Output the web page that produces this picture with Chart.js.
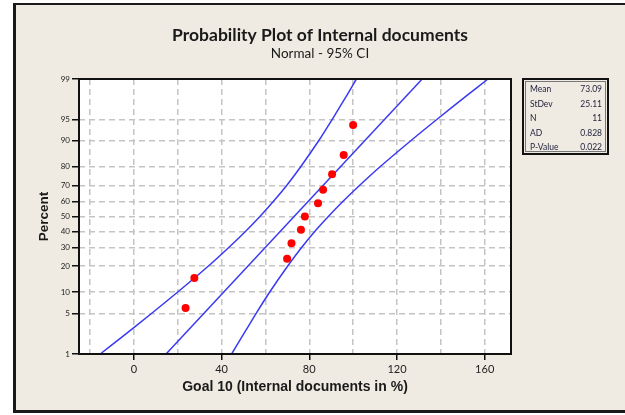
<!DOCTYPE html>
<html><head><meta charset="utf-8">
<script src="https://cdn.jsdelivr.net/npm/chart.js@4"></script>
<style>
html,body{margin:0;padding:0;background:#fff;width:625px;height:415px;overflow:hidden;font-family:Lato, sans-serif;}
#frame{position:absolute;left:13px;top:3px;width:640px;height:405px;border-left:3px solid #1a1a1a;border-top:2px solid #1a1a1a;border-bottom:3px solid #1a1a1a;background:#efebe2;}
#c{position:absolute;left:0;top:0;}
#stats{position:absolute;left:522px;top:78px;width:83px;height:73px;border:2px solid #111;}
#stats .in{position:absolute;left:1px;top:1px;right:1px;bottom:1px;border:1px solid #777;}
#stats .row{position:absolute;left:6px;right:5px;height:12px;font-size:8.5px;line-height:12px;color:#23233f;font-family:Lato, sans-serif;}
#stats .row span.v{position:absolute;right:0;top:0;}
</style></head><body>
<div id="frame"></div>
<canvas id="c" width="625" height="415"></canvas>
<div id="stats"><div class="in"></div></div>
<script>
// ---- data ----
const pointsX   = [23.6, 27.6, 69.9, 71.9, 76.2, 78.0, 84.0, 86.3, 90.4, 95.7, 100.0];
const pointsPct = [6.1, 14.9, 23.7, 32.5, 41.2, 50.0, 58.8, 67.5, 76.3, 85.1, 93.9];
const fitPct = [1, 99];
const fitX   = [14.7, 131.5];
const bandPct   = [1, 2, 5, 10, 20, 30, 40, 50, 60, 70, 80, 90, 95, 98, 99];
const bandLower = [-15.3, -5.9, 7.9, 19.9, 33.9, 43.3, 50.9, 57.5, 63.6, 69.7, 76.1, 84.3, 90.5, 97.2, 101.5];
const bandUpper = [44.6, 49.0, 55.7, 61.9, 70.1, 76.5, 82.5, 88.7, 95.3, 102.9, 112.3, 126.3, 138.3, 152.1, 161.5];
const yTicks = [1, 5, 10, 20, 30, 40, 50, 60, 70, 80, 90, 95, 99];
const xGrid  = [-20, 0, 20, 40, 60, 80, 100, 120, 140, 160];
const xLabelEvery = 40;
const statLabels = ['Mean', 'StDev', 'N', 'AD', 'P-Value'];
const statValues = ['73.09', '25.11', '11', '0.828', '0.022'];
const titleText = 'Probability Plot of Internal documents';
const subtitleText = 'Normal - 95% CI';
const xTitle = 'Goal 10 (Internal documents in %)';
const yTitle = 'Percent';

// stats box
const st = document.getElementById('stats');
statLabels.forEach((l, i) => {
  const r = document.createElement('div');
  r.className = 'row';
  r.style.top = (3 + i * 14.5) + 'px';
  r.innerHTML = '<span>' + l + '</span><span class="v">' + statValues[i] + '</span>';
  st.appendChild(r);
});

// inverse normal CDF (Acklam)
function probit(p) {
  const a=[-3.969683028665376e+01,2.209460984245205e+02,-2.759285104469687e+02,1.383577518672690e+02,-3.066479806614716e+01,2.506628277459239e+00];
  const b=[-5.447609879822406e+01,1.615858368580409e+02,-1.556989798598866e+02,6.680131188771972e+01,-1.328068155288572e+01];
  const c=[-7.784894002430293e-03,-3.223964580411365e-01,-2.400758277161838e+00,-2.549671010229583e+00,4.374664141464968e+00,2.938163982698783e+00];
  const d=[7.784695709041462e-03,3.224671290700398e-01,2.445134137142996e+00,3.754408661907416e+00];
  const pl=0.02425, ph=1-pl; let q, r;
  if (p < pl) { q=Math.sqrt(-2*Math.log(p)); return (((((c[0]*q+c[1])*q+c[2])*q+c[3])*q+c[4])*q+c[5])/((((d[0]*q+d[1])*q+d[2])*q+d[3])*q+1); }
  if (p <= ph) { q=p-0.5; r=q*q; return (((((a[0]*r+a[1])*r+a[2])*r+a[3])*r+a[4])*r+a[5])*q/(((((b[0]*r+b[1])*r+b[2])*r+b[3])*r+b[4])*r+1); }
  q=Math.sqrt(-2*Math.log(1-p)); return -(((((c[0]*q+c[1])*q+c[2])*q+c[3])*q+c[4])*q+c[5])/((((d[0]*q+d[1])*q+d[2])*q+d[3])*q+1);
}

// normal probability scale
class ProbitScale extends Chart.Scale {
  determineDataLimits() { this.min = yTicks[0]; this.max = yTicks[yTicks.length - 1]; }
  buildTicks() { return yTicks.map(v => ({ value: v })); }
  getLabelForValue(v) { return String(v); }
  configure() { super.configure(); this._z0 = probit(this.min / 100); this._z1 = probit(this.max / 100); }
  getPixelForValue(v) { const z = probit(v / 100); return this.getPixelForDecimal((z - this._z0) / (this._z1 - this._z0)); }
  getValueForPixel(px) { return NaN; }
}
ProbitScale.id = 'probit';
ProbitScale.defaults = {};
Chart.register(ProbitScale);

const toXY = (xs, ps) => xs.map((x, i) => ({ x: x, y: ps[i] }));
const blue = '#3a3af2';

const framePlugin = {
  id: 'frameBox',
  beforeDraw(chart) {
    const { ctx, chartArea: a } = chart;
    ctx.save(); ctx.fillStyle = '#ffffff'; ctx.fillRect(a.left, a.top, a.right - a.left, a.bottom - a.top); ctx.restore();
  },
  afterDraw(chart) {
    const { ctx, chartArea: a } = chart;
    ctx.save(); ctx.strokeStyle = '#111'; ctx.lineWidth = 2;
    ctx.strokeRect(a.left, a.top, a.right - a.left, a.bottom - a.top); ctx.restore();
  }
};

new Chart(document.getElementById('c'), {
  type: 'scatter',
  data: {
    datasets: [
      { data: toXY(pointsX, pointsPct), backgroundColor: '#ff0000', borderColor: '#ff0000', pointRadius: 4, pointBorderWidth: 0, showLine: false },
      { data: toXY(fitX, fitPct), borderColor: blue, borderWidth: 1.5, pointRadius: 0, showLine: true },
      { data: toXY(bandLower, bandPct), borderColor: blue, borderWidth: 1.5, pointRadius: 0, showLine: true, tension: 0.3 },
      { data: toXY(bandUpper, bandPct), borderColor: blue, borderWidth: 1.5, pointRadius: 0, showLine: true, tension: 0.3 }
    ]
  },
  options: {
    responsive: false, animation: false,
    layout: { padding: { left: 30, right: 15, top: 10, bottom: 19 } },
    plugins: {
      legend: { display: false }, tooltip: { enabled: false },
      title: { display: true, text: titleText, color: '#1a1a1a', font: { family: 'Lato', size: 17.5, weight: 'bold', lineHeight: 1.0 }, padding: { top: 16.25, bottom: 0 } },
      subtitle: { display: true, text: subtitleText, color: '#1a1a1a', font: { family: 'Lato', size: 13.5, lineHeight: 1.0 }, padding: { top: 3.5, bottom: 18.25 } }
    },
    scales: {
      x: {
        type: 'linear', min: -25, max: 172,
        afterBuildTicks(s) { s.ticks = xGrid.map(v => ({ value: v })); },
        afterFit(s) { s.height = 42; },
        ticks: { callback: v => (v % xLabelEvery === 0 ? String(v) : ''), color: '#222', font: { family: 'Lato', size: 11 }, padding: 3, maxRotation: 0, autoSkip: false },
        grid: { color: '#c4c4c4', lineWidth: 1.5, tickLength: 6, tickWidth: 1.5, tickBorderDash: [],
                tickColor: ctx => (ctx.tick && ctx.tick.value % xLabelEvery === 0 ? '#111' : 'rgba(0,0,0,0)') },
        border: { display: false, dash: [6, 4] },
        title: { display: true, text: xTitle, color: '#1a1a1a', font: { family: 'Liberation Sans', size: 14, weight: 'bold' }, padding: { top: 0, bottom: 0 } }
      },
      y: {
        type: 'probit',
        afterFit(s) { s.width = 49; },
        ticks: { color: '#222', font: { family: 'Lato', size: 8 }, padding: 2, autoSkip: false },
        grid: { color: '#c4c4c4', lineWidth: 1.5, tickLength: 7, tickWidth: 1.5, tickColor: '#111', tickBorderDash: [] },
        border: { display: false, dash: [6, 4] },
        title: { display: true, text: yTitle, color: '#1a1a1a', font: { family: 'Liberation Sans', size: 13.5, weight: 'bold' }, padding: { top: 6, bottom: 0 } }
      },
      y2: {
        type: 'linear', position: 'right', display: true,
        afterFit(s) { s.width = 99; },
        ticks: { display: false }, grid: { display: false, drawTicks: false }, border: { display: false }
      }
    }
  },
  plugins: [framePlugin]
});
</script></body></html>
